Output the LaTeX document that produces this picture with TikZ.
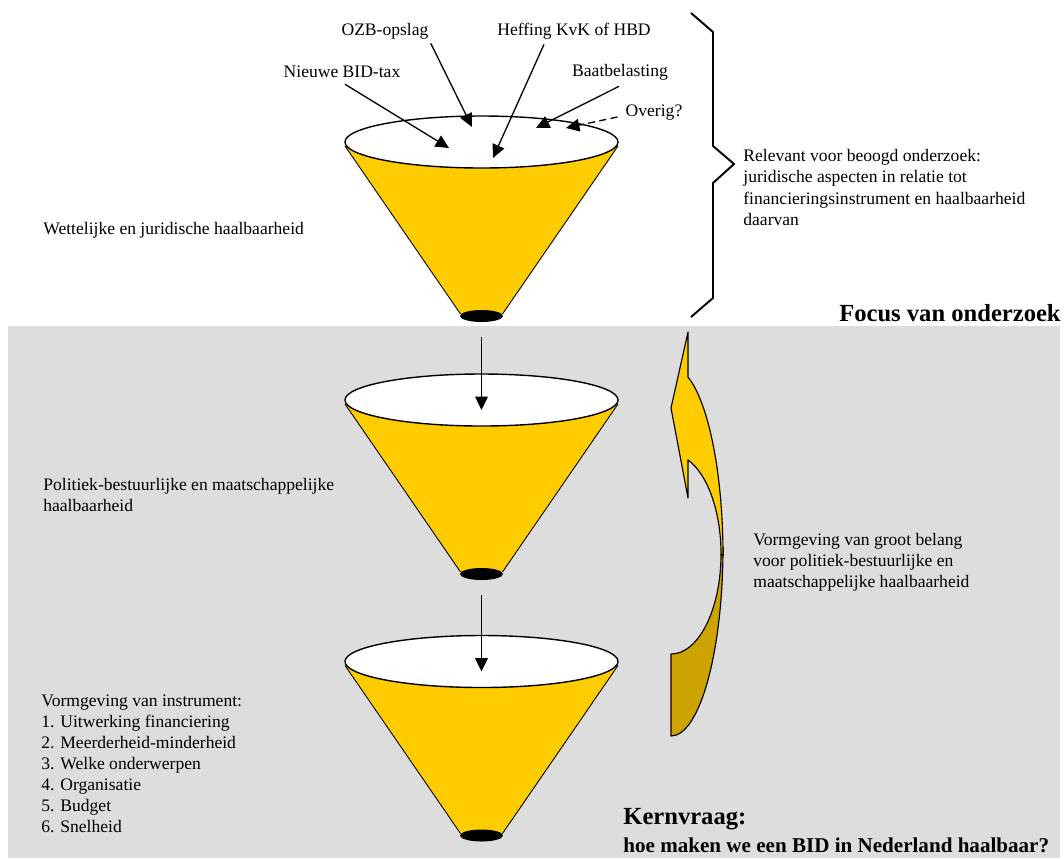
\documentclass[tikz,border=0pt]{standalone}
\usepackage{fontspec}
\setmainfont{Liberation Serif}
\usetikzlibrary{arrows.meta,calc}
\definecolor{funnelyellow}{HTML}{FFCC00}
\definecolor{arrowdark}{HTML}{CCA300}
\definecolor{panelgrey}{HTML}{DDDDDD}

% One funnel: name, centre x, centre y of the opening
\newcommand\drawfunnel[3]{%
  \fill[funnelyellow] (#2-136.5,#3+4) -- (#2-21,#3+172) -- (#2+21,#3+172) -- (#2+136.5,#3+4) -- cycle;
  \draw[line width=0.5pt] (#2-136.5,#3+4) -- (#2-21,#3+172) (#2+21,#3+172) -- (#2+136.5,#3+4);
  \draw[fill=white, line width=0.8pt] (#2,#3) ellipse [x radius=136.5, y radius=26];
  \fill (#2,#3+174) ellipse [x radius=21.5, y radius=6];
  \coordinate (#1in) at (#2,#3+10);
  \coordinate (#1out) at (#2,#3+195);
}

\begin{document}
\begin{tikzpicture}[x=0.5692pt,y=-0.5692pt,
  txt/.style={inner sep=0pt, font=\fontsize{10}{12}\selectfont, align=left},
  arr/.style={line width=0.75pt, -{Triangle[length=7.6pt,width=7.2pt]}},
  outline/.style={draw=black, line width=0.65pt, line join=round},
]
\useasboundingbox (0,0) rectangle (1064,858);
\fill[white] (0,0) rectangle (1064,858);
\fill[panelgrey] (8,326) rectangle (1060,858);

% funnels
\drawfunnel{legal}{481.5}{142}
\drawfunnel{political}{481.5}{400}
\drawfunnel{design}{481.5}{661.5}

\draw[arr] (legalout) -- (politicalin);
\draw[arr] (politicalout) -- (designin);

% candidate instruments poured into the top funnel
\node[txt] (nbt) at (342,72) {Nieuwe BID-tax};
\node[txt] (ozb) at (385,31) {OZB-opslag};
\node[txt] (hef) at (574,31) {Heffing KvK of HBD};
\node[txt] (baat) at (620,72) {Baatbelasting};
\node[txt] (ovr) at (654,113) {Overig?};

\coordinate (nbtT) at (449,148);
\coordinate (ozbT) at (472,127);
\coordinate (hefT) at (493,158);
\coordinate (baatT) at (536,128);
\coordinate (ovrT) at (566,128);

\draw[arr] ([shift={(3,6)}]nbt.south) -- (nbtT);
\draw[arr] ([shift={(2,4)}]ozb.south east) -- (ozbT);
\draw[arr] ([shift={(47,5)}]hef.south west) -- (hefT);
\draw[arr] ([shift={(-1,6)}]baat.south) -- (baatT);
\draw[arr, dash pattern=on 4pt off 2.5pt] ([shift={(-8,4)}]ovr.west) -- (ovrT);

% side labels of the funnels
\node[txt, anchor=west] (wet) at (43,230) {Wettelijke en juridische haalbaarheid};
\node[txt, anchor=west] (pol) at (43,495) {Politiek-bestuurlijke en maatschappelijke\\haalbaarheid};
\node[txt, anchor=west] (vorm) at (41,764) {Vormgeving van instrument:\\1. Uitwerking financiering\\2. Meerderheid-minderheid\\3. Welke onderwerpen\\4. Organisatie\\5. Budget\\6. Snelheid};

% brace around the legal funnel
\draw[line width=1.1pt, line join=miter] (691,13) -- (713,32) -- (713,146) -- (734,164) -- (713,183) -- (713,298) -- (691,317);
\node[txt, anchor=west] (rel) at (743,187.5) {Relevant voor beoogd onderzoek:\\juridische aspecten in relatie tot\\financieringsinstrument en haalbaarheid\\daarvan};

\node[inner sep=0pt, anchor=east, font=\fontsize{14}{16}\selectfont\bfseries] (focus) at (1061,313) {Focus van onderzoek};

% curved feedback arrow, back face
\fill[arrowdark] (723,547) arc[start angle=0, end angle=90, x radius=52, y radius=189]
  -- (671,654) arc[start angle=90, end angle=0, x radius=50, y radius=100] -- cycle;
\draw[outline] (723,547) arc[start angle=0, end angle=90, x radius=52, y radius=189]
  -- (671,654) arc[start angle=90, end angle=0, x radius=50, y radius=100];
% curved feedback arrow, front face with head
\draw[outline, fill=funnelyellow] (688,377) arc[start angle=-70.9, end angle=0, x radius=52, y radius=189]
  -- (721,554) arc[start angle=0, end angle=-70.2, x radius=50, y radius=100]
  -- (688,498) -- (671,408) -- (688,332) -- cycle;

\node[txt, anchor=west] (groot) at (753,562.5) {Vormgeving van groot belang\\voor politiek-bestuurlijke en\\maatschappelijke haalbaarheid};

\node[inner sep=0pt, anchor=west, font=\fontsize{14}{16}\selectfont\bfseries] (kern) at (623,819) {Kernvraag:};
\node[inner sep=0pt, anchor=west, font=\fontsize{12}{14}\selectfont\bfseries] (vraag) at (623,845) {hoe maken we een BID in Nederland haalbaar?};
\end{tikzpicture}
\end{document}
